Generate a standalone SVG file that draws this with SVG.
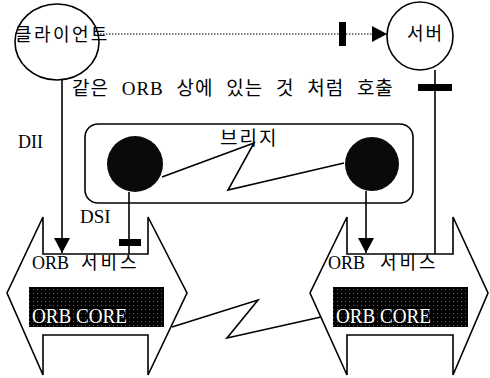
<svg xmlns="http://www.w3.org/2000/svg" width="490" height="378" viewBox="0 0 490 378">
<style>
.ln{fill:none;stroke:#000;stroke-width:1.6}
.sh{fill:#fff;stroke:#000;stroke-width:1.6;stroke-linejoin:miter}
.t{font-family:"Liberation Serif","Noto Sans CJK KR",serif;fill:#000}
.w{font-family:"Liberation Serif","Noto Sans CJK KR",serif;fill:#fff}
.bar{fill:#000}
.ball{fill:#0a0a0a}
</style>
<defs>
<pattern id="dots" width="4" height="4" patternUnits="userSpaceOnUse">
<rect width="4" height="4" fill="#000"/>
<rect x="1" y="1" width="1" height="1" fill="#666"/>
</pattern>
<marker id="ah" markerWidth="16" markerHeight="16" refX="15" refY="8" orient="auto" markerUnits="userSpaceOnUse">
<path d="M0,0 L15,8 L0,16 Z" fill="#000"/>
</marker>
</defs>
<rect width="490" height="378" fill="#fff"/>

<g id="bridge">
<rect x="85" y="124" width="328" height="79" rx="13" class="sh"/>
<text class="t" x="220" y="145" font-size="19" letter-spacing="2">브리지</text>
</g>

<g id="orb-left">
<path class="sh" d="M43,217 L43,254 L148,254 L148,217 L187,293 L148,375 L148,335 L43,335 L43,375 L7,293 Z"/>
<text class="t" y="269" font-size="18"><tspan x="32">ORB</tspan><tspan x="81" letter-spacing="3">서비스</tspan></text>
<rect x="29" y="287" width="135" height="40" fill="url(#dots)"/>
<text class="w" x="32" y="323" font-size="20" textLength="95" lengthAdjust="spacingAndGlyphs">ORB CORE</text>
</g>

<g id="orb-right">
<path class="sh" d="M347,217 L347,254 L453,254 L453,217 L488,293 L453,375 L453,335 L347,335 L347,375 L310,293 Z"/>
<text class="t" y="269" font-size="18"><tspan x="328">ORB</tspan><tspan x="380" letter-spacing="3">서비스</tspan></text>
<rect x="333" y="287" width="135" height="40" fill="url(#dots)"/>
<text class="w" x="336" y="323" font-size="20" textLength="95" lengthAdjust="spacingAndGlyphs">ORB CORE</text>
</g>

<g id="client">
<ellipse cx="57" cy="42" rx="42" ry="38" class="sh"/>
</g>

<g id="server">
<ellipse cx="420" cy="36" rx="33" ry="34" class="sh"/>
<text class="t" x="407" y="40" font-size="18" letter-spacing="2">서버</text>
</g>

<g id="ball-left">
<circle cx="135" cy="164" r="28" class="ball"/>
</g>
<g id="ball-right">
<circle cx="372" cy="164" r="27" class="ball"/>
</g>

<g id="connectors">
<line x1="100" y1="34" x2="387" y2="34" stroke="#000" stroke-width="1.2" stroke-dasharray="1.5,1.5" marker-end="url(#ah)"/>
<rect x="339" y="22" width="7" height="24" class="bar"/>
<line x1="435" y1="70" x2="435" y2="254" class="ln"/>
<rect x="418" y="84" width="34" height="7" class="bar"/>
<line x1="62" y1="80" x2="62" y2="253" class="ln" marker-end="url(#ah)"/>
<line x1="129" y1="192" x2="129" y2="254" class="ln"/>
<rect x="119" y="239" width="22" height="7" class="bar"/>
<line x1="366" y1="191" x2="366" y2="253" class="ln" marker-end="url(#ah)"/>
<polyline class="ln" points="162,177 254,143 228,190 344,163"/>
<polyline class="ln" points="172,327 258,300 227,338 321,317"/>
</g>

<g id="labels">
<text class="t" x="15" y="41" font-size="18" letter-spacing="2.4">클라이언트</text>
<text class="t" x="72" y="95" font-size="19" letter-spacing="1" word-spacing="7">같은 ORB 상에 있는 것 처럼 호출</text>
<text class="t" x="18" y="148" font-size="18">DII</text>
<text class="t" x="80" y="223" font-size="19">DSI</text>
</g>
</svg>
